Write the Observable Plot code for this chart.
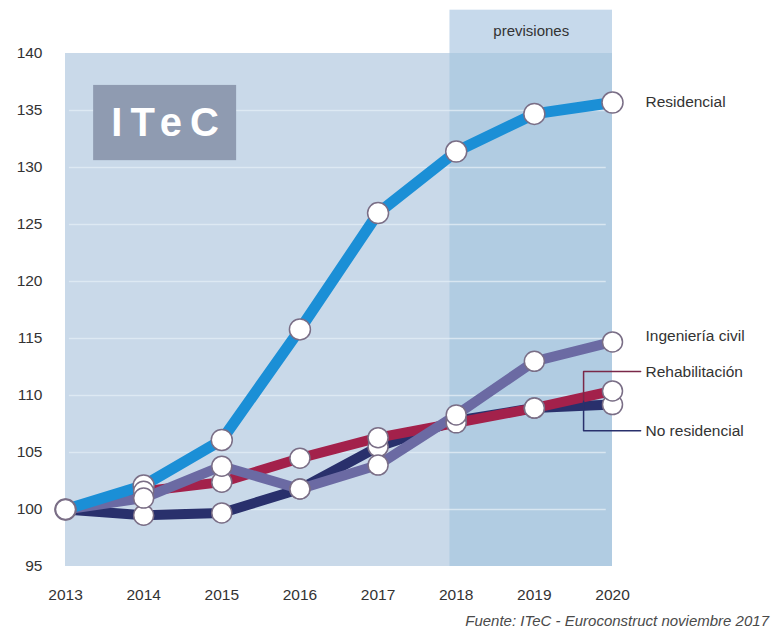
<!DOCTYPE html>
<html>
<head>
<meta charset="utf-8">
<script src="https://cdn.jsdelivr.net/npm/d3@7"></script>
<script src="https://cdn.jsdelivr.net/npm/@observablehq/plot@0.6"></script>
<style>
  html, body { margin: 0; padding: 0; background: #fff; }
  #wrap { position: relative; width: 774px; height: 632px; font-family: "Liberation Sans", Arial, sans-serif; }
  #caption { position: absolute; right: 5px; top: 612px; font-size: 15px; font-style: italic; color: #4a4a4a; }
</style>
</head>
<body>
<div id="wrap"><div id="chart"></div><div id="caption">Fuente: ITeC - Euroconstruct noviembre 2017</div></div>
<script>
const years = [2013, 2014, 2015, 2016, 2017, 2018, 2019, 2020];
const residencial    = [100, 102.1, 106.1, 115.8, 126.0, 131.4, 134.7, 135.7];
const ingenieria     = [100, 101.0, 103.8, 101.8, 103.9, 108.3, 113.0, 114.7];
const rehabilitacion = [100, 101.6, 102.4, 104.5, 106.3, 107.6, 108.9, 110.4];
const noResidencial  = [100, 99.5, 99.7, 101.8, 105.5, 107.8, 108.9, 109.2];
const seriesNames = ["No residencial", "Rehabilitación", "Ingeniería civil", "Residencial"];
const seriesValues = [noResidencial, rehabilitacion, ingenieria, residencial];
const seriesColors = ["#29306c", "#a3214b", "#6b6aa3", "#1b8fd6"];
const yTicks = [95, 100, 105, 110, 115, 120, 125, 130, 135, 140];
const forecastStart = 2017.92;
const headerTop = 143.8;

const data = [];
seriesNames.forEach((s, i) => years.forEach((yr, j) => data.push({series: s, year: yr, value: seriesValues[i][j], color: seriesColors[i]})));

const labels = [
  {text: "Residencial", y: 135.7},
  {text: "Ingeniería civil", y: 115.2},
  {text: "Rehabilitación", y: 112.1},
  {text: "No residencial", y: 106.9}
];
const bracketX = 2019.63, bracketEnd = 2020.36;

const plot = Plot.plot({
  width: 774,
  height: 605,
  marginLeft: 65,
  marginRight: 162,
  marginTop: 53,
  marginBottom: 39,
  style: {fontFamily: "'Liberation Sans', Arial, sans-serif", fontSize: "15px", color: "#333", background: "transparent", overflow: "visible"},
  x: {domain: [2013, 2020], ticks: years, tickFormat: "d"},
  y: {domain: [95, 140], ticks: yTicks},
  r: {type: "identity"},
  marks: [
    Plot.rect([0], {x1: 2013, x2: 2020, y1: 95, y2: 140, fill: "#c9d9e9"}),
    Plot.rect([0], {x1: forecastStart, x2: 2020, y1: 95, y2: 140, fill: "#b1cce2"}),
    Plot.rect([0], {x1: forecastStart, x2: 2020, y1: 140, y2: headerTop, fill: "#c6d9eb"}),
    Plot.ruleY(yTicks.filter(d => d > 95 && d < 140), {x1: 2013.05, x2: 2019.92, stroke: "#e2ecf5", strokeWidth: 1.5, strokeOpacity: 0.8}),
    Plot.text(["previsiones"], {x: (forecastStart + 2020) / 2, y: 142.0, text: d => d, fontSize: 15, fill: "#333"}),
    Plot.rect([0], {x1: 2013.36, x2: 2015.19, y1: 130.6, y2: 137.2, fill: "#8f9bb1"}),
    Plot.text(["ITeC"], {x: (2013.36 + 2015.19) / 2, y: 133.9, dx: 4, text: d => d, fontSize: 40, fontWeight: "bold", fill: "#fff", className: "logo"}),
    Plot.axisX({ticks: years, tickFormat: "d", tickSize: 0, tickPadding: 22, label: null, fill: "#333", fontSize: 15.5}),
    Plot.axisY({ticks: yTicks, tickSize: 0, tickPadding: 23, label: null, fill: "#333", fontSize: 15.5}),
    Plot.line(data, {x: "year", y: "value", z: "series", stroke: "color", strokeWidth: d => d.series === "Residencial" ? 11 : 10, strokeLinejoin: "round", strokeLinecap: "round"}),
    Plot.dot(data, {x: "year", y: "value", r: d => d.series === "Residencial" ? 10.5 : 10, fill: "#fff", stroke: "#7a6e86", strokeWidth: 1.5}),
    Plot.line([{x: bracketEnd, y: 112.1}, {x: bracketX, y: 112.1}, {x: bracketX, y: 109.5}], {x: "x", y: "y", stroke: "#7a2848", strokeWidth: 1.5}),
    Plot.line([{x: bracketX, y: 109.5}, {x: bracketX, y: 106.9}, {x: bracketEnd, y: 106.9}], {x: "x", y: "y", stroke: "#29306c", strokeWidth: 1.5}),
    Plot.text(labels, {x: 2020, y: "y", text: "text", dx: 33, textAnchor: "start", fontSize: 15.5, fill: "#333"})
  ]
});
d3.select(plot).selectAll("g.logo text").style("letter-spacing", "8px");
document.getElementById("chart").appendChild(plot);
</script>
</body>
</html>
